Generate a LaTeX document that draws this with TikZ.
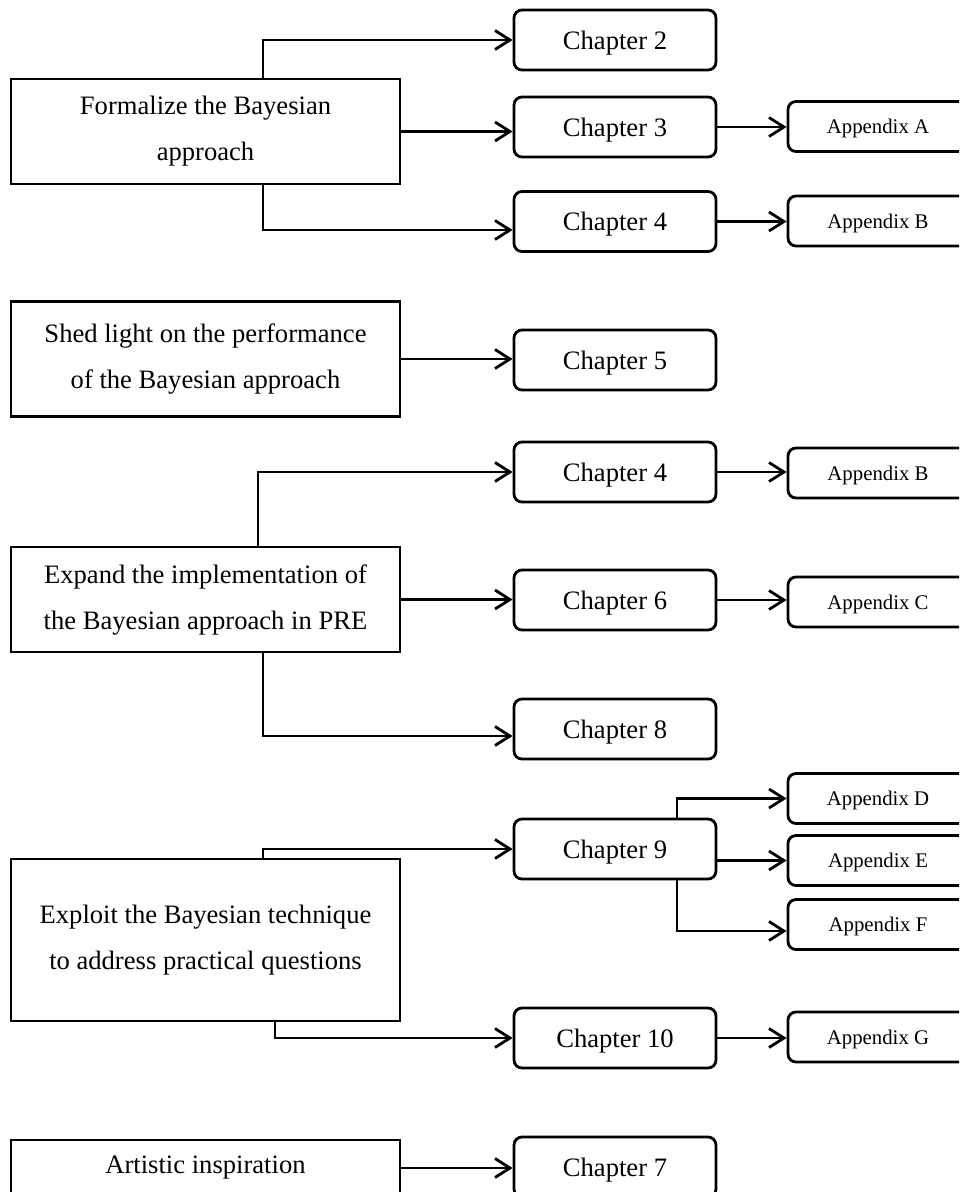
\documentclass[tikz,border=0pt]{standalone}
\usepackage{fontspec}
\setmainfont{Liberation Serif}
\usetikzlibrary{arrows.meta}
\begin{document}
\begin{tikzpicture}[x=1pt,y=-1pt,
  goal/.style={draw, line width=2.8pt, minimum width=389pt, inner sep=0pt,
    align=center, font=\fontsize{26.6}{46}\selectfont},
  chap/.style={draw, line width=2.8pt, rounded corners=8pt, minimum width=202pt,
    minimum height=60pt, inner sep=0pt, text height=18pt, text depth=0pt,
    font=\fontsize{26.6}{32}\selectfont},
  appx/.style={draw, line width=2.8pt, rounded corners=8pt, minimum width=180pt,
    minimum height=50pt, inner sep=0pt, text height=14pt, text depth=0pt,
    font=\fontsize{20.8}{25}\selectfont},
  link/.style={line width=2.8pt, -{Straight Barb[length=15pt,width=19pt]}}]
\useasboundingbox (0,0) rectangle (959,1192);
\fill[white] (0,0) rectangle (959,1192);
\clip (0,0) rectangle (959,1192);

% research goals
\node[goal, minimum height=105pt] (f1) at (205.5,131.5) {Formalize the Bayesian\\approach};
\node[goal, minimum height=115pt] (f2) at (205.5,359) {Shed light on the performance\\of the Bayesian approach};
\node[goal, minimum height=105pt] (f3) at (205.5,599.5) {Expand the implementation of\\the Bayesian approach in PRE};
\node[goal, minimum height=162pt] (f4) at (205.5,940) {Exploit the Bayesian technique\\to address practical questions};
\node[goal, minimum height=56pt] (f5) at (205.5,1168) {Artistic inspiration};

% chapters
\node[chap] (c2)  at (615,40)    {Chapter 2};
\node[chap] (c3)  at (615,127)   {Chapter 3};
\node[chap] (c4a) at (615,221.5) {Chapter 4};
\node[chap] (c5)  at (615,360)   {Chapter 5};
\node[chap] (c4b) at (615,472)   {Chapter 4};
\node[chap] (c6)  at (615,600)   {Chapter 6};
\node[chap] (c8)  at (615,729)   {Chapter 8};
\node[chap] (c9)  at (615,849)   {Chapter 9};
\node[chap] (c10) at (615,1038)  {Chapter 10};
\node[chap] (c7)  at (615,1167)  {Chapter 7};

% appendices
\node[appx] (aa)  at (878,126.5) {Appendix A};
\node[appx] (ab1) at (878,221)   {Appendix B};
\node[appx] (ab2) at (878,473)   {Appendix B};
\node[appx] (ac)  at (878,602)   {Appendix C};
\node[appx] (ad)  at (878,798.5) {Appendix D};
\node[appx] (ae)  at (878,860.5) {Appendix E};
\node[appx] (af)  at (878,924.5) {Appendix F};
\node[appx] (ag)  at (878,1037)  {Appendix G};

% goal -> chapter
\draw[link] ([xshift=57.5pt]f1.north) |- (c2.west);
\draw[link] (f1.east) -- (f1.east -| c3.west);
\draw[link] ([xshift=57.5pt]f1.south) |- ([yshift=-8.5pt]c4a.west);
\draw[link] (f2.east) -- (f2.east -| c5.west);
\draw[link] ([xshift=52.5pt]f3.north) |- (c4b.west);
\draw[link] (f3.east) -- (f3.east -| c6.west);
\draw[link] ([xshift=57.5pt]f3.south) |- ([yshift=-7pt]c8.west);
\draw[link] ([xshift=57.5pt]f4.north) |- (c9.west);
\draw[link] ([xshift=69.5pt]f4.south) |- (c10.west);
\draw[link] (f5.east) -- (f5.east -| c7.west);

% chapter -> appendix
\draw[link] (c3.east) -- (c3.east -| aa.west);
\draw[link] (c4a.east) -- (c4a.east -| ab1.west);
\draw[link] (c4b.east) -- (c4b.east -| ab2.west);
\draw[link] (c6.east) -- (c6.east -| ac.west);
\draw[link] ([xshift=62pt]c9.north) |- (ad.west);
\draw[link] (c9.east |- ae.west) -- (ae.west);
\draw[link] ([xshift=62pt]c9.south) |- ([yshift=-6.5pt]af.west);
\draw[link] (c10.east) -- (c10.east -| ag.west);
\end{tikzpicture}
\end{document}
